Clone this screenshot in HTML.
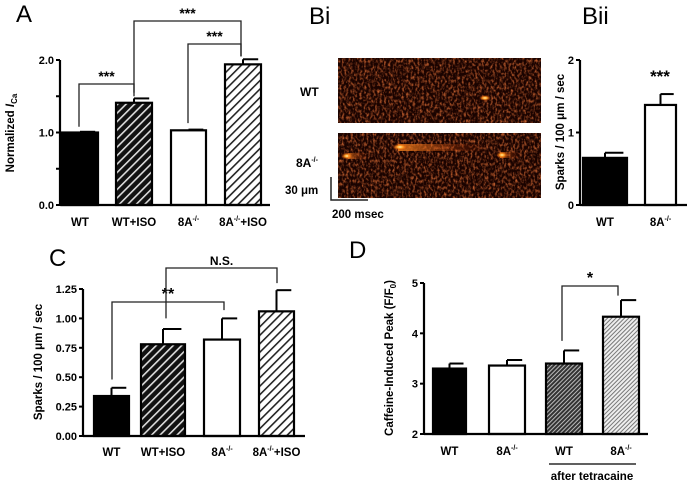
<!DOCTYPE html>
<html><head><meta charset="utf-8"><style>
body{margin:0;background:#fff;width:689px;height:486px;overflow:hidden}
svg{display:block;font-family:"Liberation Sans",Arial,sans-serif}
.tk{font-size:11px;font-weight:bold}
.cat{font-size:11.5px;font-weight:bold}
.pl{font-size:24px}
</style></head><body>
<svg id="fig" width="689" height="486" viewBox="0 0 689 486">
<defs>
<pattern id="hDark" width="6" height="6" patternUnits="userSpaceOnUse" patternTransform="rotate(45)"><rect width="6" height="6" fill="#111"/><rect width="1.6" height="6" fill="#ddd"/></pattern>
<pattern id="hLight" width="6" height="6" patternUnits="userSpaceOnUse" patternTransform="rotate(45)"><rect width="6" height="6" fill="#fff"/><rect width="1.6" height="6" fill="#222"/></pattern>
<pattern id="hGray" width="3" height="3" patternUnits="userSpaceOnUse" patternTransform="rotate(45)"><rect width="3" height="3" fill="#333"/><rect width="1" height="3" fill="#bbb"/></pattern>
<pattern id="hLGray" width="3" height="3" patternUnits="userSpaceOnUse" patternTransform="rotate(45)"><rect width="3" height="3" fill="#eee"/><rect width="1" height="3" fill="#777"/></pattern>
<filter id="noise" x="0" y="0" width="100%" height="100%">
<feTurbulence type="fractalNoise" baseFrequency="0.45 0.3" numOctaves="2" seed="3"/>
<feColorMatrix type="matrix" values="0 0 0 0 0.62  0 0 0 0 0.13  0 0 0 0 0.03  2.2 0 0 0 -0.95"/>
</filter>
<radialGradient id="spark"><stop offset="0" stop-color="#fff2b0"/><stop offset="0.4" stop-color="#ff9a20"/><stop offset="1" stop-color="#c03000" stop-opacity="0"/></radialGradient>
<linearGradient id="tail" x1="0" x2="1"><stop offset="0" stop-color="#ff8a20"/><stop offset="1" stop-color="#a02000" stop-opacity="0"/></linearGradient>
</defs>
<g id="root"></g>
</svg>
<script>
// Panel A data
const catsA = ["WT","WT+ISO","8A","8A+ISO"];
const valsA = [1.0, 1.41, 1.03, 1.94];
const errsA = [0.01, 0.06, 0.01, 0.07];
const ticksA = ["0.0","1.0","2.0"];
// Panel Bii data
const catsB = ["WT","8A"];
const valsB = [0.65, 1.38];
const errsB = [0.07, 0.15];
const ticksB = ["0","1","2"];
// Panel C data
const catsC = ["WT","WT+ISO","8A","8A+ISO"];
const valsC = [0.34, 0.78, 0.82, 1.06];
const errsC = [0.07, 0.13, 0.18, 0.18];
const ticksC = ["0.00","0.25","0.50","0.75","1.00","1.25"];
// Panel D data
const catsD = ["WT","8A","WT","8A"];
const valsD = [3.3, 3.36, 3.4, 4.33];
const errsD = [0.1, 0.11, 0.26, 0.33];
const ticksD = ["2","3","4","5"];

const NS="http://www.w3.org/2000/svg";
const root=document.getElementById('root');
function mk(tag,attrs,parent,text){const e=document.createElementNS(NS,tag);for(const k in attrs)e.setAttribute(k,attrs[k]);if(text!==undefined)e.textContent=text;(parent||root).appendChild(e);return e;}
function line(x1,y1,x2,y2,w,p){return mk('line',{x1,y1,x2,y2,stroke:'#000','stroke-width':w||2},p);}
function catLabel(g,x,y,c){
  const t=mk('text',{x,y,'text-anchor':'middle',class:'cat'},g);
  if(c.startsWith('8A')){t.appendChild(document.createTextNode('8A'));mk('tspan',{'font-size':'7','dy':'-5'},t,'-/-');if(c.length>2){mk('tspan',{'dy':'5'},t,c.slice(2));}}
  else t.textContent=c;
  return t;
}
function chart(o){
  const g=mk('g',{});
  
  
  const y=v=>o.y0+(v-o.vmin)/(o.vmax-o.vmin)*(o.y1-o.y0);
  o.ticks.forEach(t=>{const v=parseFloat(t);const yy=y(v);
    const tl=line(o.ax-4,yy,o.ax,yy,2,g);
    
    
    const tx=mk('text',{x:o.ax-6,y:yy+4,'text-anchor':'end',class:'tk'},g,t);
    
    
    if(o.minor){const ym=y(v+o.minor);if(v+o.minor<o.vmax){const m=line(o.ax-4,ym,o.ax,ym,2,g);}}
  });
  o.vals.forEach((v,i)=>{
    const [xl,xr]=o.xs[i];const top=y(v),eTop=y(v+o.errs[i]);const cx=(xl+xr)/2;
    const b=mk('rect',{x:xl+1,y:top,width:xr-xl-2,height:o.y0-top,fill:o.fills[i],stroke:'#000','stroke-width':2.2},g);
    
    
    const e=line(cx,top,cx,eTop,2,g);
    
    
    const ec=line(cx,eTop,xr-(xr-xl)*0.1,eTop,2,g);
    
    
    const lb=catLabel(g,cx,o.labY,o.cats[i]);
    
    
  });
  const ya=line(o.ax,o.y0,o.ax,o.y1,2.2,g);
  const xa=line(o.ax,o.y0,o.axEnd,o.y0,2.2,g);
  return {g,y};
}
function bracket(g,x1,yb1,x2,yb2,top,label,fs){
  const p=mk('path',{d:`M${x1} ${yb1}V${top}H${x2}V${yb2}`,fill:'none',stroke:'#222','stroke-width':1.3},g);
  
  
  const t=mk('text',{x:(x1+x2)/2,y:top-3,'text-anchor':'middle','font-size':fs||14,'font-weight':'bold'},g,label);
  
  
}
function ylabel(g,x,y,txt,sub){
  const t=mk('text',{transform:`translate(${x},${y}) rotate(-90)`,'text-anchor':'middle','font-size':11.5,'font-weight':'bold'},g,txt);
  if(sub){mk('tspan',{'font-style':'italic'},t,sub[0]);mk('tspan',{'font-size':8,dy:3},t,sub[1]);}
  
  
}
function plabel(x,y,t){const e=mk('text',{x,y,class:'pl'},root,t);}

// A
const A=chart({name:'panel-a-chart',cats:catsA,vals:valsA,errs:errsA,ticks:ticksA,minor:0.5,vmin:0,vmax:2,y0:205,y1:60,ax:60,axEnd:270,
  xs:[[61,99],[115,153],[170,207],[224,262]],fills:['#000','url(#hDark)','#fff','url(#hLight)'],labY:226});
ylabel(A.g,14,133,'Normalized ',['I','Ca']);
bracket(A.g,79,A.y(1.08),134,A.y(1.5),84,'***');
bracket(A.g,134,A.y(1.55),241,A.y(2.05),21,'***');
bracket(A.g,188,A.y(1.13),241,A.y(2.05),44,'***');
plabel(16,22,'A');

// Bi raster
const bi=mk('g',{});


[[58,'wt'],[133,'8a']].forEach(([yy,n])=>{
  mk('rect',{x:338,y:yy,width:203,height:65,fill:'#1a0300'},bi);
  const r=mk('rect',{x:338,y:yy,width:203,height:65,filter:'url(#noise)'},bi);
  
  
});
mk('ellipse',{cx:485,cy:98,rx:6,ry:3,fill:'url(#spark)'},bi);
mk('rect',{x:398,y:144,width:90,height:7,fill:'url(#tail)',opacity:0.8},bi);
mk('ellipse',{cx:400,cy:147,rx:8,ry:3.5,fill:'url(#spark)'},bi);
mk('ellipse',{cx:347,cy:156,rx:6,ry:3.5,fill:'url(#spark)'},bi);
mk('rect',{x:348,y:153,width:20,height:6,fill:'url(#tail)',opacity:0.6},bi);
mk('rect',{x:500,y:152,width:20,height:6,fill:'url(#tail)',opacity:0.6},bi);
mk('ellipse',{cx:502,cy:155,rx:6,ry:3.5,fill:'url(#spark)'},bi);
[['WT',300,96],['8A',296,167]].forEach(([t,x,y])=>{const e=mk('text',{x,y,'font-size':12,'font-weight':'bold'},bi,t);if(t==='8A')mk('tspan',{'font-size':7,dy:-5},e,'-/-');});
const sb=mk('path',{d:'M331 177V200H368',fill:'none',stroke:'#222','stroke-width':1.5},bi);

const s1=mk('text',{x:285,y:194,'font-size':11.5,'font-weight':'bold'},bi,'30 μm');
const s2=mk('text',{x:332,y:218,'font-size':11.5,'font-weight':'bold'},bi,'200 msec');
plabel(309,24,'Bi');

// Bii
const B=chart({name:'panel-bii-chart',cats:catsB,vals:valsB,errs:errsB,ticks:ticksB,vmin:0,vmax:2,y0:205,y1:60,ax:580,axEnd:687,
  xs:[[582,628],[644,677]],fills:['#000','#fff'],labY:226});
ylabel(B.g,564,132,'Sparks / 100 μm / sec');
const bs=mk('text',{x:660,y:82,'text-anchor':'middle','font-size':17,'font-weight':'bold'},B.g,'***');
plabel(582,24,'Bii');

// C
const C=chart({name:'panel-c-chart',cats:catsC,vals:valsC,errs:errsC,ticks:ticksC,vmin:0,vmax:1.25,y0:436,y1:289,ax:83,axEnd:305,
  xs:[[93,130],[140,186],[203,241],[258,295]],fills:['#000','url(#hDark)','#fff','url(#hLight)'],labY:456});
ylabel(C.g,42,362,'Sparks / 100 μm / sec');
bracket(C.g,112,C.y(0.48),224,C.y(1.07),302,'**',16);
bracket(C.g,166,C.y(1.0),277,C.y(1.3),268,'N.S.',12);
plabel(49,266,'C');

// D
const D=chart({name:'panel-d-chart',cats:catsD,vals:valsD,errs:errsD,ticks:ticksD,vmin:2,vmax:5,y0:434,y1:283,ax:424,axEnd:648,
  xs:[[432,467],[488,526],[545,583],[602,640]],fills:['#000','#fff','url(#hGray)','url(#hLGray)'],labY:455});
ylabel(D.g,393,358,'Caffeine-Induced Peak (F/F',null);
bracket(D.g,562,D.y(3.85),618,D.y(4.75),286,'*',16);
const ul=line(549,464,636,464,1.3,D.g);
const at=mk('text',{x:592,y:480,'text-anchor':'middle','font-size':11.5,'font-weight':'bold'},D.g,'after tetracaine');
plabel(349,258,'D');
const dl=D.g.querySelector('text[transform]');mk('tspan',{'font-size':8,dy:3},dl,'0');mk('tspan',{dy:-3},dl,')');
</script>
</body></html>
